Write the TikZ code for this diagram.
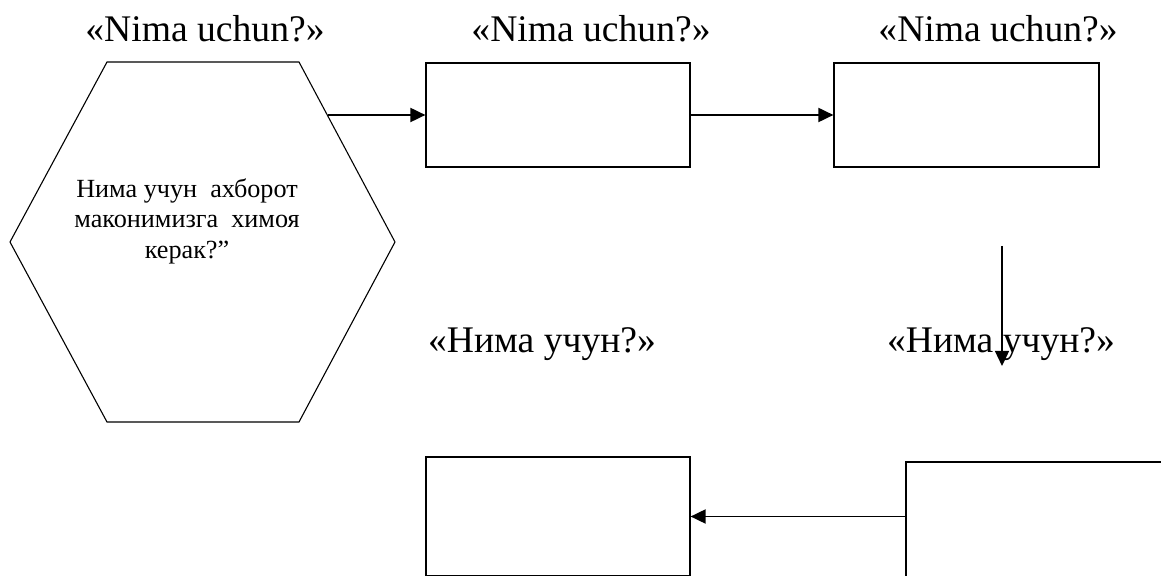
\documentclass[tikz,border=0pt]{standalone}
\usepackage{fontspec}
\setmainfont{Liberation Serif}
\newfontfamily\qfont{Liberation Serif}
\usetikzlibrary{arrows.meta}

\begin{document}
\begin{tikzpicture}[x=0.5pt,y=0.5pt]
\tikzstyle{every node}+=[inner sep=0pt]
\tikzstyle{box}=[draw=black, line width=0.6pt, minimum width=132pt, minimum height=52pt]
\tikzstyle{qlabel}=[anchor=base, font=\qfont\fontsize{18.8}{22}\selectfont]
\tikzstyle{link}=[draw=black, line width=0.95pt, -{Triangle[length=7.5pt,width=7pt]}]
\useasboundingbox (0,0) rectangle (1161,-576);
% hexagon
\coordinate (h1) at (107,-62);
\coordinate (h2) at (299,-62);
\coordinate (h3) at (395,-242);
\coordinate (h4) at (299,-422);
\coordinate (h5) at (107,-422);
\coordinate (h6) at (10,-242);
\draw [black, line width=0.55pt] (h1) -- (h2) -- (h3) -- (h4) -- (h5) -- (h6) -- cycle;
\node [align=center, font=\qfont\fontsize{13.1}{15.25}\selectfont] (why) at (187,-221)
  {Нима учун\ \ ахборот\\маконимизга\ \ химоя\\керак?”};
\coordinate (hexout) at (328,-115);
% top row
\node [qlabel] (lab1) at (205,-42) {«Nima uchun?»};
\node [qlabel] (lab2) at (591,-42) {«Nima uchun?»};
\node [qlabel] (lab3) at (998,-42) {«Nima uchun?»};
\node [box] (box1) at (558,-115) {};
\node [box, minimum width=132.5pt] (box2) at (966.5,-115) {};
\draw [link] (hexout) -- (box1.west);
\draw [link] (box1.east) -- (box2.west);
% down arrow
\coordinate (dtop) at (1002,-246);
\coordinate (dtip) at (1002,-366);
\draw [link, line width=0.7pt] (dtop) -- (dtip);
% bottom row
\node [qlabel] (lab4) at (542,-353) {«Нима учун?»};
\node [qlabel] (lab5) at (1001,-353) {«Нима учун?»};
\node [box, minimum height=59.5pt] (box3) at (558,-516.5) {};
\node [box, minimum height=64pt] (box4) at (1038,-526) {};
\draw [link] (box4.west |- box3.east) -- (box3.east);
\end{tikzpicture}
\end{document}
